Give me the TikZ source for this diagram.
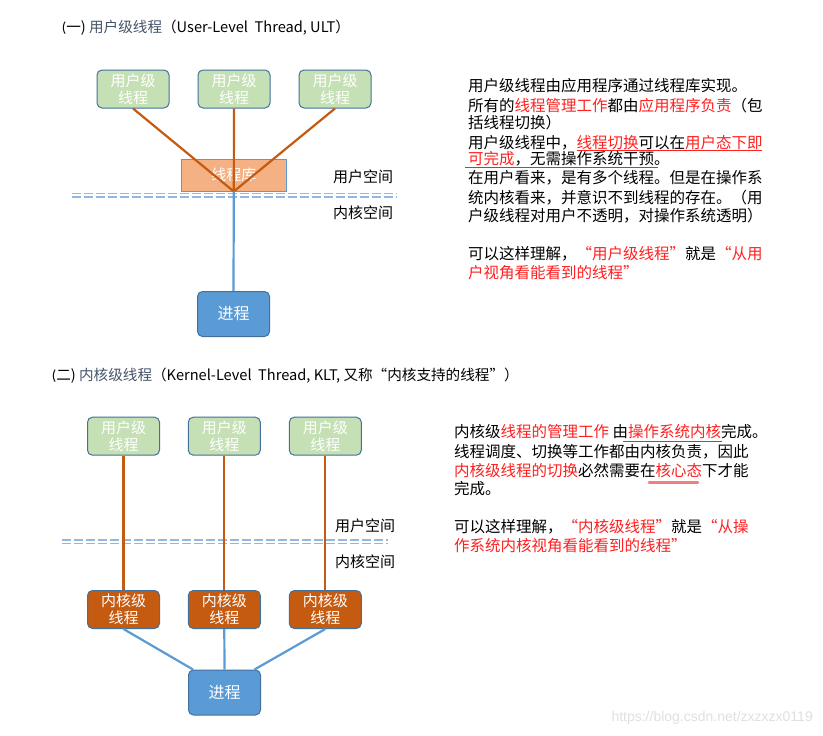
\documentclass[tikz,border=0pt]{standalone}
\usepackage{fontspec}
\setmainfont{Carlito}
\newfontfamily\cjk{Noto Sans CJK SC}
\newfontfamily\wmfont{Liberation Sans}
\definecolor{ugreen}{HTML}{C5E0B4}
\definecolor{bordblue}{HTML}{41719C}
\definecolor{libfill}{HTML}{F4B183}
\definecolor{korange}{HTML}{C55A11}
\definecolor{pblue}{HTML}{5B9BD5}
\definecolor{dashblue}{HTML}{8FB9E3}
\definecolor{hired}{HTML}{FF2020}
\definecolor{slate}{HTML}{44546A}
\definecolor{ulpink}{HTML}{F08080}
\newcommand{\rd}[1]{\textcolor{hired}{#1}}
\begin{document}
\begin{tikzpicture}[x=1pt,y=-1pt,
 box/.style={rounded corners=5pt, draw=bordblue, line width=1pt, minimum width=72pt, minimum height=38pt, inner sep=0pt, align=center, text=white, font=\cjk\fontsize{15}{17.5}\selectfont},
 ubox/.style={box, fill=ugreen},
 kbox/.style={box, fill=korange},
 pbox/.style={box, fill=pblue, minimum height=45pt, font=\cjk\fontsize{16}{19}\selectfont},
 libbox/.style={draw=pblue, fill=libfill, line width=0.9pt, minimum width=105pt, minimum height=32pt, inner sep=0pt, text=white, font=\cjk\fontsize{15}{17}\selectfont},
 oline/.style={draw=korange, line width=2.2pt},
 bline/.style={draw=pblue, line width=2.2pt},
 dline/.style={draw=dashblue, line width=1.4pt, dash pattern=on 9pt off 3pt},
 txt/.style={anchor=base west, inner sep=0pt, font=\cjk\fontsize{15.5}{19}\selectfont},
 lbl/.style={inner sep=0pt, font=\cjk\fontsize{15}{18}\selectfont},
 ttl/.style={anchor=west, inner sep=0pt, font=\fontsize{14.6}{18}\selectfont},
 uline/.style={draw=hired, line width=1.3pt},
 pline/.style={draw=ulpink, line width=2.8pt, line cap=round},
]
\useasboundingbox[fill=white] (0,0) rectangle (823,736);

% ---------- titles ----------
\node[ttl] (t1) at (61.7,28) {(\cjk 一) {\cjk\color{slate}用户级线程}{\cjk （}User-Level\ \ Thread, ULT{\cjk ）}};
\node[ttl] (t2) at (51.7,376) {(\cjk 二) {\cjk\color{slate}内核级线程}{\cjk （}Kernel-Level\ \ Thread, KLT, {\cjk 又称“内核支持的线程”）}};

% ---------- diagram 1 ----------
\draw[dline] (71.7,193.3) -- (397,193.3);
\draw[dline] (71.7,196.8) -- (397,196.8);
\node[ubox] (u1) at (133,89) {用户级\\线程};
\node[ubox] (u2) at (234,89) {用户级\\线程};
\node[ubox] (u3) at (335,89) {用户级\\线程};
\node[libbox] (lib) at (233.8,175) {线程库};
\node[pbox] (p1) at (233.5,314) {进程};
\draw[oline] (u1.south) -- (lib.south);
\draw[oline] (u2.south) -- (lib.south);
\draw[oline] (u3.south) -- (lib.south);
\draw[bline] (lib.south) -- (p1.north);
\node[lbl] (us1) at (363,176.7) {用户空间};
\node[lbl] (ks1) at (363,213) {内核空间};

% ---------- text block 1 ----------
\node[txt] (a1) at (468,91) {用户级线程由应用程序通过线程库实现。};
\node[txt] (a2) at (468,111) {所有的\rd{线程管理工作}都由\rd{应用程序负责}（包};
\node[txt] (a3) at (468,128) {括线程切换）};
\node[txt] (a4) at (468,148) {用户级线程中，\rd{线程切换}可以在\rd{用户态下即}};
\node[txt] (a5) at (468,164.5) {\rd{可完成}，无需操作系统干预。};
\node[txt] (a6) at (468,183) {在用户看来，是有多个线程。但是在操作系};
\node[txt] (a7) at (468,203) {统内核看来，并意识不到线程的存在。（用};
\node[txt] (a8) at (468,221) {户级线程对用户不透明，对操作系统透明）};
\node[txt] (a9) at (468,259) {可以这样理解，\rd{“用户级线程”}就是\rd{“从用}};
\node[txt] (a10) at (468,278) {\rd{户视角看能看到的线程”}};
\draw[uline] (576.7,150.5) -- (761.7,150.5);
\draw[uline] (465,167.8) -- (658.3,167.8);

% ---------- diagram 2 ----------
\draw[dline] (61.7,540) -- (388.3,540);
\draw[dline] (61.7,543.5) -- (388.3,543.5);
\node[ubox] (v1) at (123.5,436.2) {用户级\\线程};
\node[ubox] (v2) at (224.3,436.2) {用户级\\线程};
\node[ubox] (v3) at (325.3,436.2) {用户级\\线程};
\node[kbox] (k1) at (123.5,609.5) {内核级\\线程};
\node[kbox] (k2) at (224.3,609.5) {内核级\\线程};
\node[kbox] (k3) at (325.3,609.5) {内核级\\线程};
\node[pbox] (p2) at (224.5,692.5) {进程};
\coordinate (p2l) at ([xshift=5pt]p2.north west);
\coordinate (p2r) at ([xshift=-6.5pt]p2.north east);
\draw[oline] (v1.south) -- (k1.north);
\draw[oline] (v2.south) -- (k2.north);
\draw[oline] (v3.south) -- (k3.north);
\draw[bline] (k1.south) -- (p2l);
\draw[bline] (k2.south) -- (p2.north);
\draw[bline] (k3.south) -- (p2r);
\node[lbl] (us2) at (365,526) {用户空间};
\node[lbl] (ks2) at (365,561.7) {内核空间};

% ---------- text block 2 ----------
\node[txt] (b1) at (454,437.7) {内核级\rd{线程的管理工作} 由\rd{操作系统内核}完成。};
\node[txt] (b2) at (454,457.7) {线程调度、切换等工作都由内核负责，因此};
\node[txt] (b3) at (454,476) {\rd{内核级线程的切换}必然需要在\rd{核心态}下才能};
\node[txt] (b4) at (454,494.3) {完成。};
\node[txt] (b5) at (454,532.7) {可以这样理解，\rd{“内核级线程”}就是\rd{“从操}};
\node[txt] (b6) at (454,551) {\rd{作系统内核视角看能看到的线程”}};
\draw[uline] (623,441.5) -- (722,441.5);
\draw[pline] (649,482.5) -- (698,482.5);

% ---------- watermark ----------
\node[anchor=east, inner sep=0pt, text=black!12, font=\wmfont\fontsize{14}{16}\selectfont] (wm) at (813,718) {https://blog.csdn.net/zxzxzx0119};
\end{tikzpicture}
\end{document}
